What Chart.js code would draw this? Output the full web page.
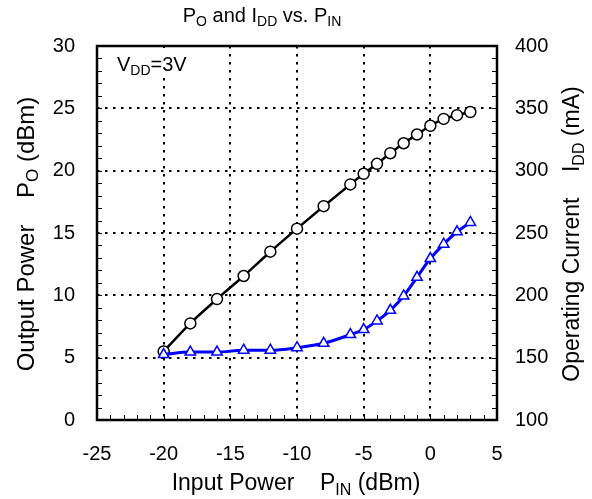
<!DOCTYPE html>
<html lang="en">
<head>
  <meta charset="UTF-8">
  <title>PO and IDD vs. PIN</title>
  <script src="https://cdn.jsdelivr.net/npm/chart.js"></script>
  <style>
    body {
      margin: 0;
      background: #ffffff;
    }
    .wrap {
      width: 592px;
      height: 499px;
    }
  </style>
</head>
<body>

<div class="wrap">
  <canvas id="poChart" width="592" height="499"></canvas>
</div>

<script>
  // input power sweep (dBm)
  const pinValues = [-20, -18, -16, -14, -12, -10, -8, -6, -5, -4, -3, -2, -1, 0, 1, 2, 3];
  // output power (dBm), left axis
  const poValues = [5.5, 7.75, 9.7, 11.55, 13.5, 15.35, 17.15, 18.9, 19.75, 20.55, 21.4, 22.2, 22.9, 23.6, 24.15, 24.45, 24.7];
  // operating current (mA), right axis
  const iddValues = [152.5, 154.5, 154.5, 156, 156, 158, 161.5, 168.5, 172.5, 179.5, 188, 199.5, 214.5, 229.5, 241, 251, 258.5];

  const xTicks = [-25, -20, -15, -10, -5, 0, 5];
  const poTicks = [0, 5, 10, 15, 20, 25, 30];
  const iddTicks = [100, 150, 200, 250, 300, 350, 400];

  const FONT = "'Liberation Sans', Arial, sans-serif";

  // draws text with subscript parts, optionally rotated
  function drawRich(ctx, parts, x, y, size, align, rotate) {
    const sub = Math.round(size * 0.7);
    ctx.save();
    ctx.translate(x, y);
    if (rotate) ctx.rotate(rotate);
    ctx.fillStyle = '#000';
    ctx.textBaseline = 'alphabetic';
    ctx.textAlign = 'left';
    let total = 0;
    parts.forEach(p => {
      ctx.font = (p.sub ? sub : size) + 'px ' + FONT;
      total += ctx.measureText(p.t).width;
    });
    let cx = align === 'center' ? -total / 2 : 0;
    const base = size * 0.36;
    parts.forEach(p => {
      ctx.font = (p.sub ? sub : size) + 'px ' + FONT;
      ctx.fillText(p.t, cx, base + (p.sub ? size * 0.2 : 0));
      cx += ctx.measureText(p.t).width;
    });
    ctx.restore();
  }

  const decorPlugin = {
    id: 'decor',
    beforeDatasetsDraw(chart) {
      const ctx = chart.ctx;
      const a = chart.chartArea;
      const sx = chart.scales.x, sy = chart.scales.y, sy2 = chart.scales.y2;
      ctx.save();
      // white box behind the VDD note, hides the grid there
      ctx.fillStyle = '#fff';
      ctx.fillRect(a.left + 10, a.top + 2, 80, 30);
      ctx.strokeStyle = '#000';
      ctx.lineWidth = 1;
      ctx.beginPath();
      // inward minor ticks
      for (let v = 0; v <= 30; v++) {
        const py = Math.round(sy.getPixelForValue(v)) + 0.5;
        ctx.moveTo(a.left, py); ctx.lineTo(a.left + 5, py);
      }
      for (let v = 100; v <= 400; v += 10) {
        const py = Math.round(sy2.getPixelForValue(v)) + 0.5;
        ctx.moveTo(a.right - 5, py); ctx.lineTo(a.right, py);
      }
      for (let v = -25; v <= 5; v++) {
        const px = Math.round(sx.getPixelForValue(v)) + 0.5;
        ctx.moveTo(px, a.bottom); ctx.lineTo(px, a.bottom - 5);
      }
      ctx.stroke();
      // frame
      ctx.lineWidth = 2.5;
      ctx.strokeRect(a.left, a.top, a.right - a.left, a.bottom - a.top);
      ctx.restore();
    },
    afterDraw(chart) {
      const ctx = chart.ctx;
      drawRich(ctx, [{t: 'P'}, {t: 'O', sub: true}, {t: ' and I'}, {t: 'DD', sub: true}, {t: ' vs. P'}, {t: 'IN', sub: true}],
        262, 15, 20, 'center');
      drawRich(ctx, [{t: 'Input Power    P'}, {t: 'IN', sub: true}, {t: ' (dBm)'}],
        296, 482, 23, 'center');
      drawRich(ctx, [{t: 'Output Power    P'}, {t: 'O', sub: true}, {t: ' (dBm)'}],
        25, 234, 24, 'center', -Math.PI / 2);
      drawRich(ctx, [{t: 'Operating Current    I'}, {t: 'DD', sub: true}, {t: ' (mA)'}],
        571, 234, 23, 'center', -Math.PI / 2);
      drawRich(ctx, [{t: 'V'}, {t: 'DD', sub: true}, {t: '=3V'}],
        117, 64, 20, 'left');
    }
  };

  function pts(ys) {
    return pinValues.map((x, i) => ({x: x, y: ys[i]}));
  }

  new Chart(document.getElementById('poChart'), {
    type: 'line',
    data: {
      datasets: [{
        label: 'PO',
        data: pts(poValues),
        yAxisID: 'y',
        borderColor: '#000',
        borderWidth: 2.5,
        pointStyle: 'circle',
        pointRadius: 5.5,
        pointBorderWidth: 1.5,
        pointBorderColor: '#000',
        pointBackgroundColor: '#fff',
        cubicInterpolationMode: 'monotone',
        order: 2
      }, {
        label: 'IDD',
        data: pts(iddValues),
        yAxisID: 'y2',
        borderColor: '#0000ff',
        borderWidth: 3,
        pointStyle: 'triangle',
        pointRadius: 6,
        pointBorderWidth: 1.5,
        pointBorderColor: '#0000ff',
        pointBackgroundColor: '#fff',
        cubicInterpolationMode: 'monotone',
        order: 1
      }]
    },
    options: {
      responsive: false,
      animation: false,
      layout: { padding: { top: 46, left: 0, right: 0, bottom: 0 } },
      plugins: {
        legend: { display: false },
        title: { display: false },
        tooltip: { enabled: false }
      },
      scales: {
        x: {
          type: 'linear',
          min: -25,
          max: 5,
          afterBuildTicks: s => { s.ticks = xTicks.map(v => ({value: v})); },
          afterFit: s => { s.height = 79; },
          ticks: { color: '#000', font: { family: FONT, size: 20 }, padding: 22 },
          grid: { color: '#000', lineWidth: 2, drawTicks: false },
          border: { display: false, dash: [2.5, 5.5] }
        },
        y: {
          position: 'left',
          min: 0,
          max: 30,
          afterBuildTicks: s => { s.ticks = poTicks.map(v => ({value: v})); },
          afterFit: s => { s.width = 97; },
          ticks: { color: '#000', font: { family: FONT, size: 20 }, padding: 22 },
          grid: { color: '#000', lineWidth: 2, drawTicks: false },
          border: { display: false, dash: [2.5, 5.5] }
        },
        y2: {
          position: 'right',
          min: 100,
          max: 400,
          afterBuildTicks: s => { s.ticks = iddTicks.map(v => ({value: v})); },
          afterFit: s => { s.width = 95; },
          ticks: { color: '#000', font: { family: FONT, size: 20 }, padding: 18 },
          grid: { drawOnChartArea: false, drawTicks: false },
          border: { display: false }
        }
      }
    },
    plugins: [decorPlugin]
  });
</script>

</body>
</html>
